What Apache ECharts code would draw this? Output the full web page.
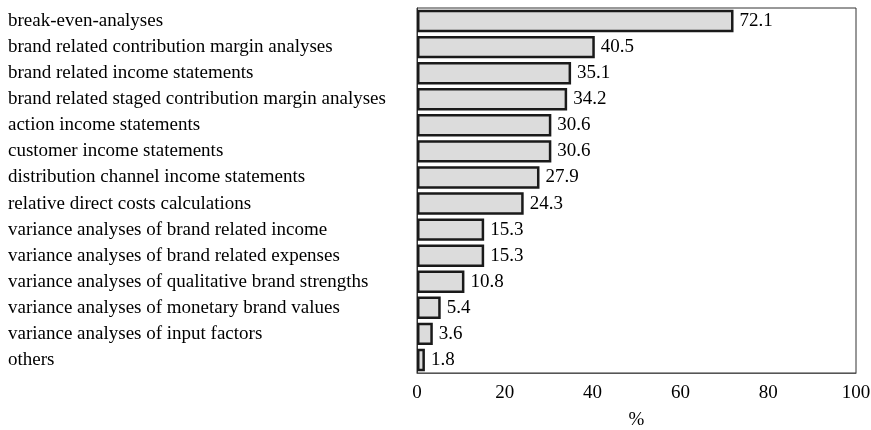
<!DOCTYPE html>
<html><head><meta charset="utf-8">
<script src="https://cdn.jsdelivr.net/npm/echarts@6/dist/echarts.min.js"></script>
<style>html,body{margin:0;padding:0;background:#fff}#c{width:871px;height:430px}</style>
</head><body><div id="c"></div>
<script>
const categories = [
  "break-even-analyses",
  "brand related contribution margin analyses",
  "brand related income statements",
  "brand related staged contribution margin analyses",
  "action income statements",
  "customer income statements",
  "distribution channel income statements",
  "relative direct costs calculations",
  "variance analyses of brand related income",
  "variance analyses of brand related expenses",
  "variance analyses of qualitative brand strengths",
  "variance analyses of monetary brand values",
  "variance analyses of input factors",
  "others"
];
const values = [72.1, 40.5, 35.1, 34.2, 30.6, 30.6, 27.9, 24.3, 15.3, 15.3, 10.8, 5.4, 3.6, 1.8];
const xTicks = [0, 20, 40, 60, 80, 100];
const axisTitle = "%";

const font = "Liberation Serif";
const fs = 19;
const chart = echarts.init(document.getElementById('c'));
chart.setOption({
  animation: false,
  textStyle: {fontFamily: font},
  grid: {left: 417, right: 15, top: 8, bottom: 57, containLabel: false, outerBoundsMode: 'none',
    show: true, borderColor: '#333', borderWidth: 1, backgroundColor: 'transparent'},
  xAxis: {
    type: 'value', min: xTicks[0], max: xTicks[xTicks.length - 1], interval: 20,
    name: axisTitle, nameLocation: 'middle', nameGap: 38,
    nameTextStyle: {fontFamily: font, fontSize: fs, color: '#000'},
    axisLine: {show: true, lineStyle: {color: '#555'}},
    axisTick: {show: false},
    splitLine: {show: false},
    axisLabel: {fontFamily: font, fontSize: fs, color: '#000', margin: 11}
  },
  yAxis: {
    type: 'category', data: categories, inverse: true,
    axisLine: {show: true, lineStyle: {color: '#333'}},
    axisTick: {show: false},
    axisLabel: {fontFamily: font, fontSize: fs, color: '#000', align: 'left', margin: 409}
  },
  series: [{
    type: 'bar', data: values, barCategoryGap: '14%',
    itemStyle: {color: '#dcdcdc', borderColor: '#1a1a1a', borderWidth: 2.5},
    label: {show: true, position: 'right', distance: 6, fontFamily: font, fontSize: fs, color: '#000',
      formatter: p => p.value.toFixed(1)}
  }]
});
</script></body></html>
